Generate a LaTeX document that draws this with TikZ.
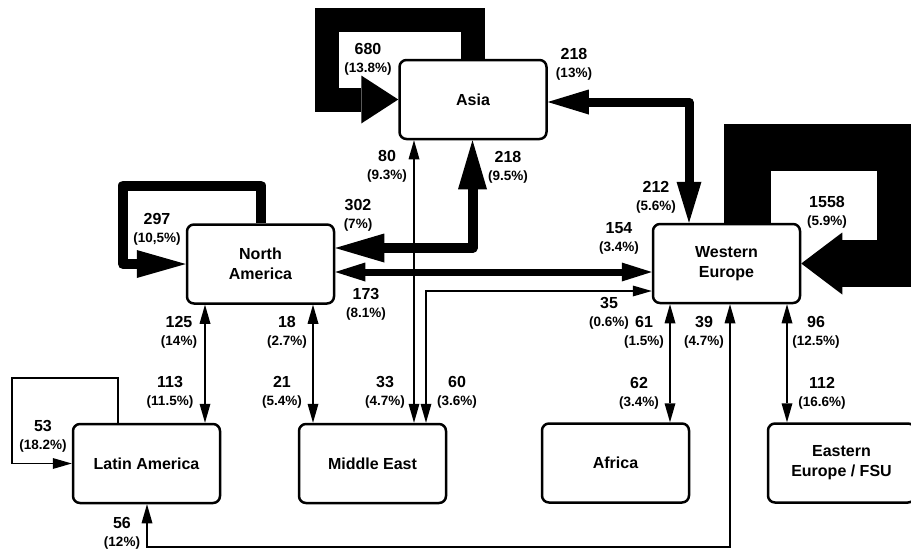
\documentclass[tikz,border=0pt]{standalone}
\usepackage{fontspec}
\setmainfont{Liberation Sans}
\usetikzlibrary{arrows.meta}
\usetikzlibrary{positioning}

\newcommand{\pct}[1]{{\fontsize{13.5}{15}\selectfont(#1\%)}}

\begin{document}
\begin{tikzpicture}[x=1pt, y=-1pt,
    region/.style={draw, line width=2.5pt, rounded corners=7pt, fill=white,
        minimum width=147pt, minimum height=79pt, inner sep=0pt, align=center,
        font=\fontsize{16}{20}\selectfont\bfseries},
    num/.style={align=center, inner sep=0pt, font=\fontsize{16}{18}\selectfont\bfseries},
    hair/.style={line width=1.3pt,
        arrows={Triangle[length=19pt,width=11pt,line width=0pt]-Triangle[length=19pt,width=11pt,line width=0pt]}},
    flowmid/.style={line width=7pt,
        arrows={Triangle[length=30pt,width=19pt,line width=0pt]-Triangle[length=30pt,width=19pt,line width=0pt]}},
    flowheavy/.style={line width=10pt, line join=round,
        arrows={Triangle[length=49pt,width=29pt,line width=0pt]-Triangle[length=49pt,width=29pt,line width=0pt]}},
    flowasiawe/.style={line width=9pt, line join=round,
        arrows={Triangle[length=41pt,width=25pt,line width=0pt]-Triangle[length=41pt,width=25pt,line width=0pt]}},
    loopla/.style={line width=1.3pt, arrows={-Triangle[length=19pt,width=11pt,line width=0pt]}},
    loopna/.style={line width=10pt, line join=round, arrows={-Triangle[length=49pt,width=28pt,line width=0pt]}},
    loopasia/.style={line width=24pt, line join=miter, arrows={-Triangle[length=37pt,width=48pt,line width=0pt]}},
    loopwe/.style={line width=47pt, line join=miter, arrows={-Triangle[length=41pt,width=62pt,line width=0pt]}}]

  \useasboundingbox (0,0) rectangle (911,552);

 %regions
  \foreach \x/\y/\name/\txt in {473/99.5/asia/Asia, 260.5/264/na/{North\\America},
      726.5/263.5/we/{Western\\Europe}, 146.5/463.5/la/{Latin America},
      372.5/463.5/me/{Middle East}, 615.5/463/af/Africa, 841.5/463/ee/{Eastern\\Europe / FSU}} {
      \node[region] (\name) at (\x,\y) {\txt};
  }

 %self loops
  \draw[loopasia] (asia.north) |- (327,20) |- (asia.west);
  \draw[loopna] (na.north) |- (123,185.5) |- (na.west);
  \draw[loopwe] (we.north -| 747.5,0) |- (900.5,147.5) |- (we.east);
  \draw[loopla] (la.north -| 118,0) |- (12,378) |- (la.west);

 %thick flows
  \draw[flowasiawe] (asia.east |- 0,102) -| (we.north -| 689,0);
  \draw[flowheavy] (na.east |- 0,248) -| (asia.south -| 472.5,0);
  \draw[flowmid] (na.east |- 0,272) -- (we.west |- 0,272);

 %thin flows
  \draw[hair] (asia.south -| 414,0) -- (me.north -| 414,0);
  \draw[hair] (we.west |- 0,291) -| (me.north -| 426,0);
  \draw[hair] (na.south -| 205,0) -- (la.north -| 205,0);
  \draw[hair] (na.south -| 313,0) -- (me.north -| 313,0);
  \draw[hair] (we.south -| 670,0) -- (af.north -| 670,0);
  \draw[hair] (we.south -| 787,0) -- (ee.north -| 787,0);
  \draw[hair] (we.south -| 730,0) |- (147,547) -- (la.south -| 147,0);

 %volumes
  \foreach \x/\y/\n/\p [count=\i] in {368/59/680/13.8, 574/64/218/13, 387/166/80/9.3,
      508/167/218/9.5, 358/215/302/7, 157/229/297/{10,5}, 656/197.5/212/5.6,
      619/238.5/154/3.4, 827/212/1558/5.9, 366/304/173/8.1, 609/313.5/35/0.6,
      179/332/125/14, 287/332/18/2.7, 644/332/61/1.5, 704/332/39/4.7,
      816/332/96/12.5, 170/392.5/113/11.5, 282/392.5/21/5.4, 385/392.5/33/4.7,
      457/392.5/60/3.6, 639/393.5/62/3.4, 822/393.5/112/16.6, 43/436/53/18.2,
      122/533.5/56/12} {
      \node[num] (lab\i) at (\x,\y) {\n\\\pct{\p}};
  }
\end{tikzpicture}
\end{document}
